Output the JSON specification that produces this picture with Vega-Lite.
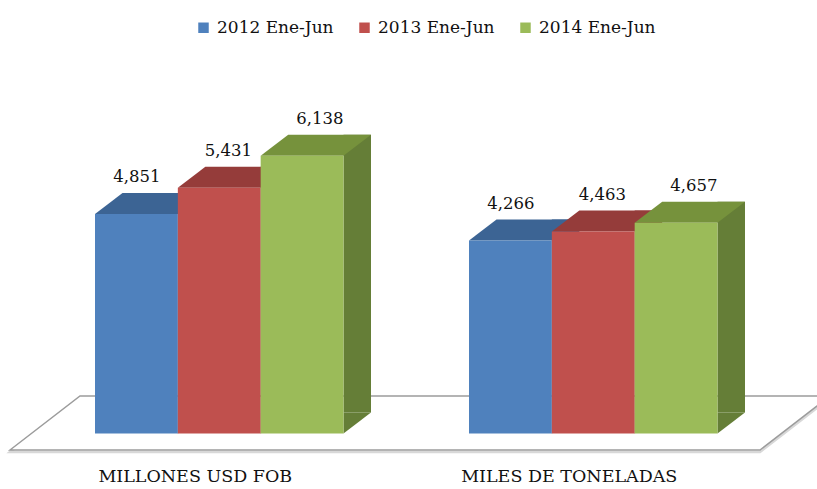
{
  "$schema": "https://vega.github.io/schema/vega-lite/v6.json",
  "width": 817,
  "height": 433.5,
  "autosize": "none",
  "padding": {"left": 0, "top": 0, "right": 0, "bottom": 55.5},
  "background": "white",
  "data": {
    "values": [
      {"grupo": "MILLONES USD FOB", "serie": "2012 Ene-Jun", "valor": 4851},
      {"grupo": "MILLONES USD FOB", "serie": "2013 Ene-Jun", "valor": 5431},
      {"grupo": "MILLONES USD FOB", "serie": "2014 Ene-Jun", "valor": 6138},
      {"grupo": "MILES DE TONELADAS", "serie": "2012 Ene-Jun", "valor": 4266},
      {"grupo": "MILES DE TONELADAS", "serie": "2013 Ene-Jun", "valor": 4463},
      {"grupo": "MILES DE TONELADAS", "serie": "2014 Ene-Jun", "valor": 4657}
    ]
  },
  "encoding": {
    "x": {
      "field": "grupo", "type": "nominal", "sort": null, "title": null,
      "scale": {"paddingInner": 0.33556, "paddingOuter": 0.26003, "align": 0.48843},
      "axis": {"domain": false, "ticks": false, "grid": false, "labelAngle": 0, "labelFont": "DejaVu Serif", "labelFontSize": 17.5, "labelColor": "#111", "labelPadding": 43, "labelOffset": -24, "labelBaseline": "middle", "labelLimit": 0}
    },
    "y": {"field": "valor", "type": "quantitative", "title": null, "axis": null, "scale": {"domain": [0, 9578], "nice": false}}
  },
  "layer": [
    {
      "transform": [{"filter": "datum.grupo == 'MILLONES USD FOB' && datum.serie == '2012 Ene-Jun'"}],
      "mark": {"type": "point", "shape": "M-209.25,16.5L-139.25,-37.5L610.75,-37.5L540.75,16.5Z", "size": 4, "filled": false, "fill": null, "stroke": "#d8d8d8", "strokeWidth": 2.5, "yOffset": 2, "opacity": 1},
      "encoding": {"y": {"datum": 0}}
    },
    {
      "transform": [{"filter": "datum.grupo == 'MILLONES USD FOB' && datum.serie == '2012 Ene-Jun'"}],
      "mark": {"type": "point", "shape": "M-209.25,16.5L-139.25,-37.5L610.75,-37.5L540.75,16.5Z", "size": 4, "filled": true, "fill": "white", "stroke": "#9c9c9c", "strokeWidth": 1.5, "opacity": 1, "fillOpacity": 1, "strokeOpacity": 1},
      "encoding": {"y": {"datum": 0}}
    },
    {
      "mark": {"type": "bar", "yOffset": -21, "y2Offset": -21, "strokeWidth": 0, "opacity": 1},
      "encoding": {
        "xOffset": {"field": "serie", "type": "nominal", "sort": null, "scale": {"range": [82.83, 276.0], "paddingInner": 0.668, "paddingOuter": 0}},
        "y2": {"datum": 0},
        "fill": {"field": "serie", "type": "nominal", "sort": null, "legend": null, "scale": {"range": ["#385D8A", "#8C3836", "#657E37"]}}
      }
    },
    {
      "mark": {"type": "point", "shape": "M41.4,0L41.4,-21L68.9,-21Z", "size": 4, "filled": true, "strokeWidth": 0, "opacity": 1},
      "encoding": {
        "xOffset": {"field": "serie", "type": "nominal", "sort": null},
        "y": {"datum": 0},
        "fill": {"field": "serie", "type": "nominal", "sort": null, "legend": null, "scale": {"range": ["#385D8A", "#8C3836", "#657E37"]}}
      }
    },
    {
      "mark": {"type": "point", "shape": "M-41.4,0L41.4,0L68.9,-21L-13.9,-21Z", "size": 4, "filled": true, "strokeWidth": 0, "opacity": 1},
      "encoding": {
        "xOffset": {"field": "serie", "type": "nominal", "sort": null},
        "fill": {"field": "serie", "type": "nominal", "sort": null, "legend": null, "scale": {"range": ["#3C6494", "#953C3A", "#76923C"]}}
      }
    },
    {
      "mark": {"type": "bar", "strokeWidth": 0, "opacity": 1},
      "encoding": {
        "xOffset": {"field": "serie", "type": "nominal", "sort": null, "scale": {"paddingInner": 0, "paddingOuter": 0}},
        "color": {
          "field": "serie", "type": "nominal", "sort": null,
          "scale": {"range": ["#4F81BD", "#C0504D", "#9BBB59"]},
          "legend": {"orient": "none", "legendX": 195, "legendY": 19, "direction": "horizontal", "title": null, "symbolType": "square", "symbolSize": 110, "symbolStrokeWidth": 0, "labelFont": "DejaVu Serif", "labelFontSize": 17, "labelColor": "#111", "labelOffset": 5, "columnPadding": 22, "padding": 0}
        }
      }
    },
    {
      "mark": {"type": "text", "font": "DejaVu Serif", "fontSize": 16.5, "color": "#111", "baseline": "middle", "align": "center", "dy": -36.5},
      "encoding": {
        "xOffset": {"field": "serie", "type": "nominal", "sort": null, "scale": {"type": "point", "range": [41.8, 224.8], "padding": 0}},
        "text": {"field": "valor", "type": "quantitative", "format": ","}
      }
    }
  ],
  "resolve": {"scale": {"xOffset": "independent", "fill": "independent"}},
  "config": {"view": {"stroke": null}}
}
